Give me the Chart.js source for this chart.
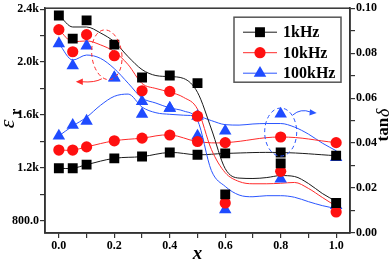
<!DOCTYPE html>
<html>
<head>
<meta charset="utf-8">
<script src="https://cdn.jsdelivr.net/npm/chart.js@4/dist/chart.umd.min.js"></script>
<style>
  body { margin: 0; background: #fff; }
</style>
</head>
<body>
<canvas id="chart" width="392" height="263"></canvas>
<script>
// measured points (x = composition)
const xVals = [0, 0.05, 0.1, 0.2, 0.3, 0.4, 0.5, 0.6, 0.8, 1.0];
const eps1k = [2352, 2177, 2315, 2132, 1883, 1898, 1841, 1000, 1234, 935];
const eps10k = [2245, 2078, 2207, 2048, 1783, 1778, 1591, 935, 1174, 867];
const eps100k = [2140, 1973, 2123, 1883, 1703, 1651, 1591, 885, 1117, 917];
const tan1k = [0.0288, 0.0288, 0.0304, 0.0332, 0.0340, 0.0358, 0.0348, 0.0354, 0.0358, 0.0344];
const tan10k = [0.0369, 0.0369, 0.0383, 0.0410, 0.0422, 0.0436, 0.0407, 0.0402, 0.0427, 0.0402];
const tan100k = [0.0432, 0.0480, 0.0498, 0.0690, 0.0529, 0.0555, 0.0432, 0.0454, 0.0530, 0.0336];

// fitted guide curves
const xFit = [0, 0.05, 0.1, 0.15, 0.2, 0.25, 0.3, 0.35, 0.4, 0.45, 0.5, 0.55, 0.6, 0.65, 0.7, 0.75, 0.8, 0.85, 0.9, 0.95, 1.0];
const epsFit1k = [2355, 2265, 2265, 2220, 2153, 2040, 1943, 1898, 1890, 1876, 1771, 1494, 1194, 1123, 1120, 1127, 1142, 1135, 1082, 1007, 947];
const epsFit10k = [2245, 2153, 2160, 2130, 2078, 1980, 1838, 1800, 1773, 1733, 1644, 1340, 1164, 1097, 1080, 1080, 1084, 1090, 1045, 977, 910];
const epsFit100k = [2140, 2015, 2053, 2028, 1950, 1840, 1728, 1690, 1653, 1630, 1560, 1180, 1060, 995, 982, 990, 990, 978, 945, 915, 893];
const tanFit100k = [0.0432, 0.0476, 0.0515, 0.0568, 0.0608, 0.0618, 0.0560, 0.0535, 0.0528, 0.0524, 0.0520, 0.0500, 0.0482, 0.0480, 0.0485, 0.0487, 0.0487, 0.0471, 0.0440, 0.0400, 0.0366];

const seriesNames = ["1kHz", "10kHz", "100kHz"];
const xTicks = [0, 0.1, 0.2, 0.3, 0.4, 0.5, 0.6, 0.7, 0.8, 0.9, 1.0];
const epsTicks = [800, 1000, 1200, 1400, 1600, 1800, 2000, 2200, 2400];
const tanTicks = [0, 0.01, 0.02, 0.03, 0.04, 0.05, 0.06, 0.07, 0.08, 0.09, 0.10];

const colors = ["#000000", "#ff1010", "#1f4bff"];
const lineColors = ["#1a1a1a", "#ff2a2a", "#2a55ff"];
const styles = ["rect", "circle", "triangle"];
const radii = [7, 5.6, 7.2];
const FONT = '"Liberation Serif", "Times New Roman", serif';

const pts = (xs, ys) => xs.map((x, i) => ({ x: x, y: ys[i] }));

function markerSet(ys, k, axis) {
  return {
    data: pts(xVals, ys), yAxisID: axis, showLine: false, order: 0,
    pointStyle: styles[k], pointRadius: radii[k], pointHoverRadius: radii[k],
    backgroundColor: colors[k], borderColor: colors[k], borderWidth: 0
  };
}
function curveSet(xs, ys, k, axis, mono) {
  return {
    data: pts(xs, ys), yAxisID: axis, order: 1,
    borderColor: lineColors[k], borderWidth: 1, pointRadius: 0,
    tension: 0.4, cubicInterpolationMode: mono ? "monotone" : "default", fill: false
  };
}

const datasets = [
  markerSet(eps1k, 0, "y"), markerSet(eps10k, 1, "y"), markerSet(eps100k, 2, "y"),
  markerSet(tan1k, 0, "y1"), markerSet(tan10k, 1, "y1"), markerSet(tan100k, 2, "y1"),
  curveSet(xFit, epsFit1k, 0, "y", true), curveSet(xFit, epsFit10k, 1, "y", true),
  curveSet(xFit, epsFit100k, 2, "y", true),
  curveSet(xVals, tan1k, 0, "y1", false), curveSet(xVals, tan10k, 1, "y1", false),
  curveSet(xFit, tanFit100k, 2, "y1", true)
];

function drawMarker(ctx, k, x, y) {
  const r = radii[k];
  ctx.fillStyle = colors[k];
  ctx.beginPath();
  if (k === 0) {
    const s = r * Math.SQRT1_2;
    ctx.rect(x - s, y - s, 2 * s, 2 * s);
  } else if (k === 1) {
    ctx.arc(x, y, r, 0, Math.PI * 2);
  } else {
    ctx.moveTo(x, y - r);
    ctx.lineTo(x + r * 0.866, y + r * 0.5);
    ctx.lineTo(x - r * 0.866, y + r * 0.5);
    ctx.closePath();
  }
  ctx.fill();
}

function arrowHead(ctx, x, y, ang, color) {
  ctx.save();
  ctx.translate(x, y);
  ctx.rotate(ang);
  ctx.fillStyle = color;
  ctx.beginPath();
  ctx.moveTo(0, 0);
  ctx.lineTo(-7, -3.2);
  ctx.lineTo(-7, 3.2);
  ctx.closePath();
  ctx.fill();
  ctx.restore();
}

const decor = {
  id: "decor",
  afterDraw(chart) {
    const { ctx, chartArea: a, scales } = chart;
    const sx = scales.x, sy = scales.y, st = scales.y1;
    ctx.save();

    // frame
    ctx.strokeStyle = "#333";
    ctx.lineWidth = 1.5;
    ctx.strokeRect(a.left, a.top, a.right - a.left, a.bottom - a.top);

    // dashed ellipses + arrows
    ctx.lineWidth = 1;
    ctx.setLineDash([4, 3]);
    ctx.strokeStyle = lineColors[1];
    let cx = sx.getPixelForValue(0.173), cy = sy.getPixelForValue(2055);
    ctx.beginPath();
    ctx.ellipse(cx, cy, 15, 25, -0.12, 0, Math.PI * 2);
    ctx.stroke();
    ctx.strokeStyle = lineColors[2];
    let bx = sx.getPixelForValue(0.8), by = st.getPixelForValue(0.0449);
    ctx.beginPath();
    ctx.ellipse(bx, by, 16, 24, 0, 0, Math.PI * 2);
    ctx.stroke();
    ctx.setLineDash([]);

    ctx.strokeStyle = lineColors[1];
    ctx.beginPath();
    ctx.moveTo(cx - 5, cy + 24);
    ctx.quadraticCurveTo(cx - 12, cy + 28, cx - 25, cy + 27);
    ctx.stroke();
    arrowHead(ctx, cx - 31, cy + 27, Math.PI, lineColors[1]);

    ctx.strokeStyle = lineColors[2];
    ctx.beginPath();
    ctx.moveTo(bx + 12, by - 17);
    ctx.quadraticCurveTo(bx + 20, by - 24, bx + 30, by - 20);
    ctx.stroke();
    arrowHead(ctx, bx + 36, by - 19, 0.1, lineColors[2]);

    // legend
    const lx = a.right - 116, ly = a.top + 9;
    ctx.fillStyle = "#fff";
    ctx.fillRect(lx, ly, 107, 65);
    ctx.strokeStyle = "#555";
    ctx.lineWidth = 1.5;
    ctx.strokeRect(lx, ly, 107, 65);
    ctx.font = "bold 16px " + FONT;
    ctx.textBaseline = "middle";
    ctx.textAlign = "left";
    seriesNames.forEach((name, k) => {
      const yy = ly + 15 + k * 20.5;
      ctx.strokeStyle = lineColors[k];
      ctx.lineWidth = 1;
      ctx.beginPath();
      ctx.moveTo(lx + 9, yy);
      ctx.lineTo(lx + 43, yy);
      ctx.stroke();
      drawMarker(ctx, k, lx + 26, yy);
      ctx.fillStyle = "#000";
      ctx.fillText(name, lx + 49, yy + 1);
    });

    // axis titles
    ctx.fillStyle = "#000";
    ctx.textAlign = "center";
    ctx.font = "italic bold 19px " + FONT;
    ctx.fillText("x", (a.left + a.right) / 2, 254);

    ctx.save();
    ctx.translate(8, 118);
    ctx.rotate(-Math.PI / 2);
    ctx.font = "italic 22px " + FONT;
    ctx.fillText("\u03b5", -6, 0);
    ctx.font = "bold 14px " + FONT;
    ctx.fillText("r", 6, 8);
    ctx.restore();

    ctx.save();
    ctx.translate(384, 125);
    ctx.rotate(-Math.PI / 2);
    ctx.font = "bold 17px " + FONT;
    const w1 = ctx.measureText("tan").width;
    ctx.font = "italic 18px " + FONT;
    const w2 = ctx.measureText("\u03b4").width;
    const x0 = -(w1 + w2 + 1) / 2;
    ctx.textAlign = "left";
    ctx.font = "bold 17px " + FONT;
    ctx.fillText("tan", x0, 0);
    ctx.font = "italic 18px " + FONT;
    ctx.fillText("\u03b4", x0 + w1 + 1, 0);
    ctx.restore();

    ctx.restore();
  }
};

const tickFont = { family: FONT, size: 12, weight: "bold" };
const gridOpts = { drawOnChartArea: false, drawTicks: true, tickLength: 5, color: "#333", lineWidth: 1.2 };
const borderOpts = { display: true, color: "#333", width: 1.5 };

new Chart(document.getElementById("chart"), {
  type: "line",
  data: { datasets: datasets },
  options: {
    responsive: false,
    animation: false,
    events: [],
    layout: { padding: { top: 6, left: 0, right: 0, bottom: 0 } },
    plugins: { legend: { display: false }, tooltip: { enabled: false } },
    scales: {
      x: {
        type: "linear", min: -0.05, max: 1.05,
        afterBuildTicks: s => { s.ticks = xTicks.map(v => ({ value: v })); },
        afterFit: s => { s.height = 30; },
        ticks: {
          autoSkip: false, maxRotation: 0, padding: 1, color: "#000", font: tickFont,
          callback: (v, i) => (i % 2 === 0 ? v.toFixed(1) : "")
        },
        grid: gridOpts, border: borderOpts
      },
      y: {
        type: "linear", position: "left", min: 708, max: 2407,
        afterBuildTicks: s => { s.ticks = epsTicks.map(v => ({ value: v })); },
        afterFit: s => { s.width = 45; },
        ticks: {
          autoSkip: false, padding: 1, color: "#000", font: tickFont,
          callback: v => (v === 800 ? "800.0" : (v % 400 === 0 ? (v / 1000).toFixed(1) + "k" : ""))
        },
        grid: gridOpts, border: borderOpts
      },
      y1: {
        type: "linear", position: "right", min: 0, max: 0.1,
        afterBuildTicks: s => { s.ticks = tanTicks.map(v => ({ value: v })); },
        afterFit: s => { s.width = 42; },
        ticks: {
          autoSkip: false, padding: 1, color: "#000", font: tickFont,
          callback: (v, i) => (i % 2 === 0 ? v.toFixed(2) : "")
        },
        grid: gridOpts, border: borderOpts
      }
    }
  },
  plugins: [decor]
});
</script>
</body>
</html>
